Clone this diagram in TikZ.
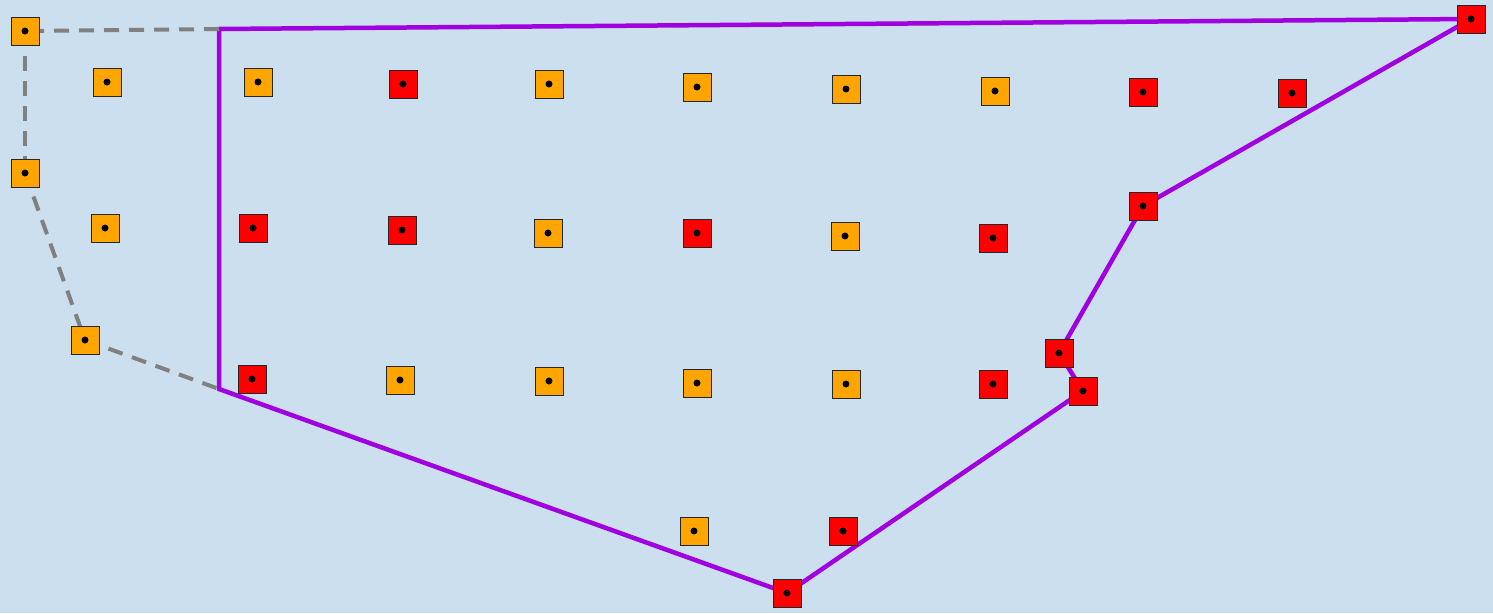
\documentclass[tikz,border=0pt]{standalone}
\usetikzlibrary{backgrounds}
\definecolor{bgblue}{HTML}{CCDFEE}
\definecolor{mkorange}{HTML}{FFA500}
\definecolor{mkred}{HTML}{FF0000}
\definecolor{hullpurple}{HTML}{A000E0}
\definecolor{dashgray}{HTML}{808080}
\tikzset{
  marker/.style={rectangle, minimum size=28pt, inner sep=0pt, draw=black!85, line width=1pt},
  om/.style={marker, fill=mkorange},
  rm/.style={marker, fill=mkred},
  hull/.style={draw=hullpurple, line width=4.5pt, line join=miter},
  ghost/.style={draw=dashgray, line width=4pt, dash pattern=on 15pt off 10pt},
  dotmark/.style={circle, fill=black, inner sep=0pt, minimum size=7pt}
}
\newcommand{\mk}[4]{\node[#1] (#2) at (#3,#4) {}; \node[dotmark] at (#3,#4) {};}
\begin{document}
\begin{tikzpicture}[x=1pt,y=-1pt]
\useasboundingbox (0,0) rectangle (1493,613);
% orange markers
\mk{om}{o1}{25}{31}
\mk{om}{o2}{107}{82}
\mk{om}{o3}{25}{173}
\mk{om}{o4}{105}{228}
\mk{om}{o5}{85}{340}
\mk{om}{o6}{258}{82}
\mk{om}{o7}{549}{84}
\mk{om}{o8}{697}{87}
\mk{om}{o9}{846}{89}
\mk{om}{o10}{995}{91}
\mk{om}{o11}{548}{233}
\mk{om}{o12}{845}{236}
\mk{om}{o13}{400}{380}
\mk{om}{o14}{549}{381}
\mk{om}{o15}{697}{383}
\mk{om}{o16}{846}{384}
\mk{om}{o17}{694}{531}
% red markers
\mk{rm}{r1}{403}{84}
\mk{rm}{r2}{1143}{92}
\mk{rm}{r3}{1292}{93}
\mk{rm}{r4}{1471}{19}
\mk{rm}{r5}{253}{228}
\mk{rm}{r6}{402}{230}
\mk{rm}{r7}{697}{233}
\mk{rm}{r8}{993}{238}
\mk{rm}{r9}{1143}{206}
\mk{rm}{r10}{252}{379}
\mk{rm}{r11}{993}{384}
\mk{rm}{r12}{1059}{353}
\mk{rm}{r13}{1083}{391}
\mk{rm}{r14}{843}{531}
\mk{rm}{r15}{787}{593}
\coordinate (c1) at (219,29);
\coordinate (c2) at (219,389);
\begin{scope}[on background layer]
\fill[bgblue] (0,0) rectangle (1493,613);
\draw[hull] (c1) -- (r4.center) -- (r9.center) -- (r12.center) -- (r13.center) -- (r15.center) -- (c2) -- cycle;
\draw[ghost] (c1) -- (o1.center);
\draw[ghost] (o1.center) -- (o3.center);
\draw[ghost] (o3.center) -- (o5.center);
\draw[ghost] (o5.center) -- (c2);
\end{scope}
\end{tikzpicture}
\end{document}
